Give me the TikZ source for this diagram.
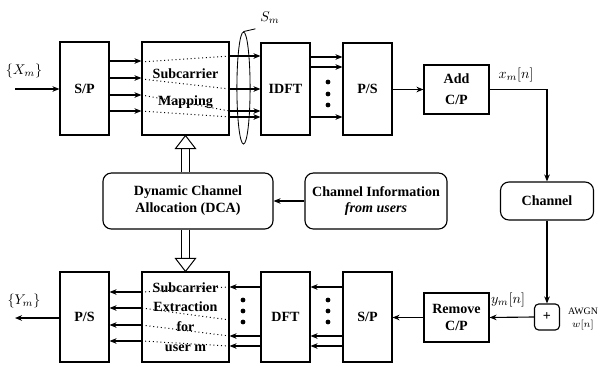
\documentclass[tikz,border=0pt]{standalone}
\usepackage{fontspec}
\setmainfont{Liberation Serif}
\usetikzlibrary{arrows.meta,shapes.geometric}

\begin{document}
\begin{tikzpicture}[x=0.025cm,y=-0.025cm,
  blk/.style={draw,line width=0.8pt,align=center,font=\bfseries,inner sep=1pt},
  rblk/.style={blk,rounded corners=6pt},
  sig/.style={line width=0.8pt,-{Stealth[length=5pt,width=4pt]}},
  lnk/.style={dotted,line width=0.7pt},
  fat/.style={double,double distance=4.8pt,line width=0.7pt,shorten >=8.5pt},
  fathead/.style={line width=0.7pt,fill=white,line join=miter}]
\useasboundingbox (0,0) rectangle (600,370);

% transmitter
\node[blk,minimum width=1.225cm,minimum height=2.325cm] (SP) at (84.5,88.5) {S/P};
\node[blk,minimum width=2.175cm,minimum height=2.325cm] (MAP) at (185.5,88.5) {Subcarrier\\[7pt]Mapping};
\node[blk,minimum width=1.225cm,minimum height=2.3cm] (IDFT) at (285.5,89) {IDFT};
\node[blk,minimum width=1.225cm,minimum height=2.3cm] (PS) at (367.5,89) {P/S};
\node[blk,minimum width=1.625cm,minimum height=1.225cm] (ACP) at (456.5,89.5) {Add\\[3pt]C/P};

% channel
\node[rblk,minimum width=2.325cm,minimum height=0.95cm] (CH) at (547,201) {Channel};
\node[blk,rounded corners=3pt,minimum width=0.625cm,minimum height=0.65cm] (ADD) at (547,317) {+};
\node[font=\scriptsize,align=center,inner sep=0pt] (NOISE) at (583,319) {AWGN\\[1pt]$w[n]$};

% receiver
\node[blk,minimum width=1.625cm,minimum height=1.225cm] (RCP) at (456.5,317.5) {Remove\\C/P};
\node[blk,minimum width=1.225cm,minimum height=2.25cm] (SPR) at (367.5,317) {S/P};
\node[blk,minimum width=1.225cm,minimum height=2.25cm] (DFT) at (285.5,317) {DFT};
\node[blk,minimum width=2.175cm,minimum height=2.25cm] (EXT) at (185.5,317) {Subcarrier\\[2pt]Extraction\\[2pt]for\\[2pt]user m};
\node[blk,minimum width=1.225cm,minimum height=2.25cm] (PSR) at (84.5,317) {P/S};

% resource allocation
\node[rblk,minimum width=4.25cm,minimum height=1.4cm] (DCA) at (188,201) {Dynamic Channel\\Allocation (DCA)};
\node[rblk,minimum width=3.55cm,minimum height=1.4cm] (CI) at (376,201) {Channel Information\\\textit{from users}};

\node[draw,ellipse,line width=0.6pt,minimum width=0.33cm,minimum height=2.8cm,inner sep=0pt] (SM) at (243.5,88) {};
\node (SML) at (270,18) {$S_m$};
\draw[line width=0.6pt] (SM.north) -- (SML.south west);

\coordinate (IN) at (15,89);
\coordinate (OUT) at (15,318);
\node (XM) at (24,71) {$\{X_m\}$};
\node (YM) at (24,301) {$\{Y_m\}$};
\node (XN) at (516,75) {$x_m[n]$};
\node (YN) at (508,300) {$y_m[n]$};

% forward path
\draw[sig] (IN) -- (SP.west |- IN);
\foreach \y in {61,78,95,111}
  \draw[sig] (SP.east |- 0,\y) -- (MAP.west |- 0,\y);
\foreach \a/\b in {62/56,79/89,95/111,111/117}{
  \draw[lnk] (MAP.west |- 0,\a) -- (MAP.east |- 0,\b);
  \draw[sig] (MAP.east |- 0,\b) -- (IDFT.west |- 0,\b);
}
\foreach \y in {57,67,117}
  \draw[sig] (IDFT.east |- 0,\y) -- (PS.west |- 0,\y);
\foreach \y in {82,94,105}
  \fill (328,\y) circle (1.7pt);
\draw[sig] (PS.east |- ACP.west) -- (ACP.west);
\draw[sig] (ACP.east) -| (CH.north);
\draw[sig] (CH.south) -- (ADD.north);

% return path
\draw[sig] (ADD.west) -- (RCP.east);
\draw[sig] (RCP.west) -- (SPR.east |- RCP.west);
\foreach \y in {287,336,346}{
  \draw[sig] (SPR.west |- 0,\y) -- (DFT.east |- 0,\y);
  \draw[sig] (DFT.west |- 0,\y) -- (EXT.east |- 0,\y);
}
\foreach \y in {300,311,322}{
  \fill (328,\y) circle (1.7pt);
  \fill (243,\y) circle (1.7pt);
}
\foreach \a/\b in {287/292,320/308,336/325,346/341}{
  \draw[lnk] (EXT.east |- 0,\a) -- (EXT.west |- 0,\b);
  \draw[sig] (EXT.west |- 0,\b) -- (PSR.east |- 0,\b);
}
\draw[sig] (PSR.west |- OUT) -- (OUT);

% allocation links
\draw[sig] (CI.west) -- (DCA.east);
\draw[fat] (DCA.north -| MAP.south) -- (MAP.south);
\draw[fathead] (MAP.south) -- ++(-10,13) -- ++(20,0) -- cycle;
\draw[fat] (DCA.south -| EXT.north) -- (EXT.north);
\draw[fathead] (EXT.north) -- ++(-10,-13) -- ++(20,0) -- cycle;
\end{tikzpicture}
\end{document}
